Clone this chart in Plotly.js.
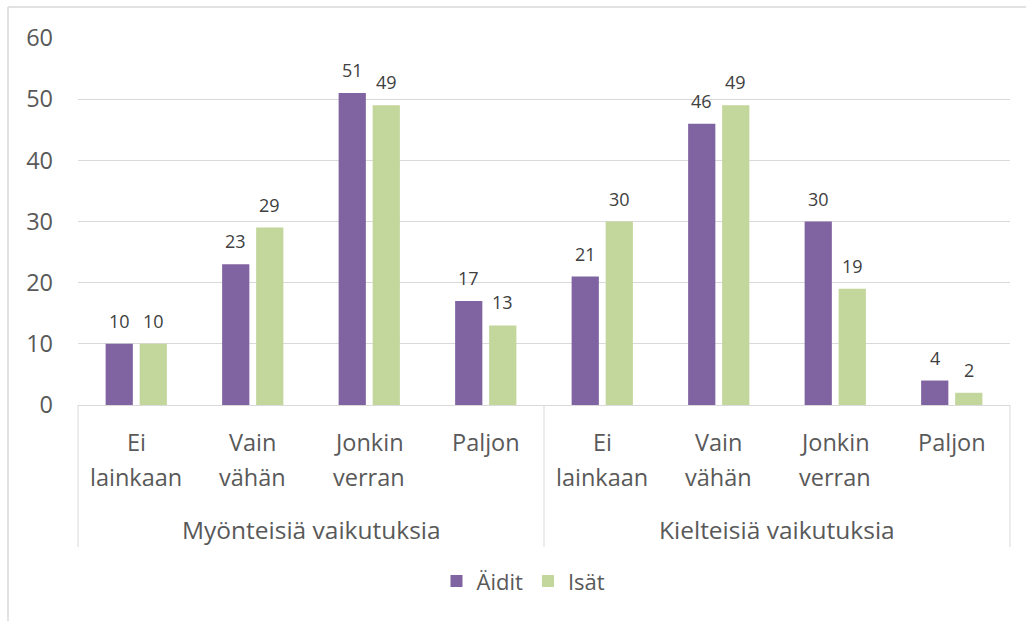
<!DOCTYPE html>
<html>
<head>
<meta charset="utf-8">
<script src="https://cdn.plot.ly/plotly-3.0.1.min.js"></script>
<style>html,body{margin:0;padding:0;background:#fff;}#chart{width:1026px;height:621px;}</style>
</head>
<body>
<div id="chart"></div>
<script>
const groups = ["Myönteisiä vaikutuksia", "Kielteisiä vaikutuksia"];
const levelLine1 = ["Ei", "Vain", "Jonkin", "Paljon"];
const levelLine2 = ["lainkaan", "vähän", "verran", ""];
const seriesNames = ["Äidit", "Isät"];
const aidit = [10, 23, 51, 17, 21, 46, 30, 4];
const isat = [10, 29, 49, 13, 30, 49, 19, 2];
const yTicks = [0, 10, 20, 30, 40, 50, 60];

const FONT = "'Open Sans', 'Noto Sans', sans-serif";
const colors = ["#8064A2", "#C3D69B"];
const TXT = "#595959";
const FS = 23.5;

const xKeys = [];
groups.forEach(g => levelLine1.forEach((l, i) => xKeys.push(g + " | " + l + " " + levelLine2[i])));

const seriesVals = [aidit, isat];
const traces = seriesVals.map((vals, s) => ({
  type: "bar",
  name: seriesNames[s],
  x: xKeys,
  y: vals,
  marker: {color: colors[s]},
  hoverinfo: "none"
}));

const annotations = [];
// data labels
seriesVals.forEach((vals, s) => {
  vals.forEach((v, j) => {
    annotations.push({
      x: xKeys[j], y: v, xref: "x", yref: "y",
      text: String(v), showarrow: false, xanchor: "center", yanchor: "bottom",
      xshift: s === 0 ? -17 : 17, yshift: 9,
      font: {family: FONT, size: 18, color: "#404040"}
    });
  });
});
// category labels (two lines)
xKeys.forEach((k, j) => {
  const li = j % levelLine1.length;
  annotations.push({x: k, xref: "x", y: -0.1, yref: "paper", text: levelLine1[li],
    showarrow: false, xanchor: "center", yanchor: "middle", font: {family: FONT, size: FS, color: TXT}});
  if (levelLine2[li]) {
    annotations.push({x: k, xref: "x", y: -0.196, yref: "paper", text: levelLine2[li],
      showarrow: false, xanchor: "center", yanchor: "middle", font: {family: FONT, size: FS, color: TXT}});
  }
});
// group labels
groups.forEach((g, i) => {
  annotations.push({x: (i + 0.5) / groups.length, xref: "paper", y: -0.34, yref: "paper",
    text: g, showarrow: false, xanchor: "center", yanchor: "middle",
    font: {family: FONT, size: 24.5, color: TXT}});
});

const lineStyle = {color: "#d9d9d9", width: 1};
const shapes = [];
for (let i = 0; i <= groups.length; i++) {
  shapes.push({type: "line", xref: "paper", yref: "paper", x0: i / groups.length, x1: i / groups.length,
    y0: 0, y1: -0.387, line: lineStyle});
}
// outer chart border (partially visible)
shapes.push({type: "line", xref: "paper", yref: "paper", x0: -0.0751, x1: 1.03, y0: 1.0845, y1: 1.0845, line: {color: "#d9d9d9", width: 1.5}});
shapes.push({type: "line", xref: "paper", yref: "paper", x0: -0.0751, x1: -0.0751, y0: 1.0845, y1: -0.6, line: {color: "#d9d9d9", width: 1.5}});

const layout = {
  width: 1026, height: 621,
  margin: {l: 78, r: 16, t: 38, b: 216},
  paper_bgcolor: "#ffffff", plot_bgcolor: "#ffffff",
  barmode: "group", bargap: 0.416, bargroupgap: 0.2,
  font: {family: FONT, color: TXT},
  xaxis: {type: "category", showticklabels: false, showgrid: false, showline: true,
    linecolor: "#d9d9d9", linewidth: 1, ticks: "", zeroline: false, fixedrange: true},
  yaxis: {range: [0, 60], tickvals: yTicks, ticktext: yTicks.map(String), showgrid: true,
    gridcolor: "#d9d9d9", gridwidth: 1, zeroline: false, showline: false, ticks: "",
    ticklabelstandoff: 24, tickfont: {family: FONT, size: FS, color: TXT}, fixedrange: true},
  showlegend: true,
  legend: {orientation: "h", x: 0.478, xanchor: "center", y: -0.48, yanchor: "middle",
    font: {family: FONT, size: 22, color: TXT}, itemwidth: 30, tracegroupgap: 0},
  annotations: annotations,
  shapes: shapes
};

Plotly.newPlot("chart", traces, layout, {displayModeBar: false, staticPlot: true});
</script>
</body>
</html>
